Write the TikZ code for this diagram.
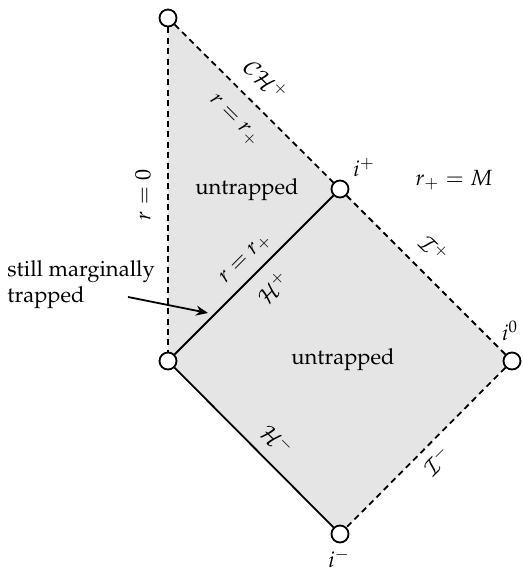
\documentclass[tikz,border=0pt]{standalone}
\usepackage[T1]{fontenc}
\usepackage{mathpazo}
\usetikzlibrary{arrows.meta,backgrounds}
\tikzset{
  dot/.style={circle,draw,fill=white,line width=0.9pt,minimum size=8.5pt,inner sep=0pt},
  bound/.style={line width=0.9pt,dash pattern=on 3pt off 2.2pt},
  horizon/.style={line width=0.9pt},
  lbl/.style={font=\fontsize{11}{13}\selectfont,inner sep=1pt},
  region/.style={fill=gray!20}
}
\begin{document}
\begin{tikzpicture}[x=0.5pt,y=-0.5pt]
\useasboundingbox (0,0) rectangle (523,573);
\node[dot] (T) at (168,18) {};
\node[dot] (P) at (340,189) {};
\node[dot] (L) at (168,361) {};
\node[dot] (Z) at (512,361) {};
\node[dot] (M) at (340,534) {};
\begin{scope}[on background layer]
\fill[region] (T.center) -- (P.center) -- (Z.center) -- (M.center) -- (L.center) -- cycle;
\end{scope}
\draw[bound] (T) -- (L);
\draw[bound] (T) -- (P);
\draw[bound] (P) -- (Z);
\draw[bound] (Z) -- (M);
\draw[horizon] (L) -- (P);
\draw[horizon] (L) -- (M);
\node[lbl,rotate=90] (r0) at (143,195) {$r=0$};
\node[lbl,rotate=-45] (ch) at (266,80) {$\mathcal{CH}^+$};
\node[lbl,rotate=-45] (rr1) at (234,121) {$r=r_+$};
\node[lbl] (u1) at (247,190) {untrapped};
\node[lbl] (ip) at (364,168) {$i^+$};
\node[lbl] (rm) at (454,180) {$r_+=M$};
\node[lbl,rotate=-45] (sp) at (434,249) {$\mathcal{I}^+$};
\node[lbl] (i0) at (510,331) {$i^0$};
\node[lbl] (u2) at (343,360) {untrapped};
\node[lbl,rotate=45] (rr2) at (246,259) {$r=r_+$};
\node[lbl,rotate=45] (hp) at (273,288) {$\mathcal{H}^+$};
\node[lbl,rotate=-45] (hm) at (277,440) {$\mathcal{H}^-$};
\node[lbl,rotate=45] (sm) at (437,461) {$\mathcal{I}^-$};
\node[lbl] (im) at (339,559) {$i^-$};
\node[lbl,align=left,anchor=west] (smt) at (5,285) {still marginally\\trapped};
\coordinate (as) at (128,297);
\coordinate (ae) at (208,313);
\draw[line width=0.9pt,-{Stealth[length=6pt,width=5pt]}] (as) -- (ae);
\end{tikzpicture}
\end{document}
